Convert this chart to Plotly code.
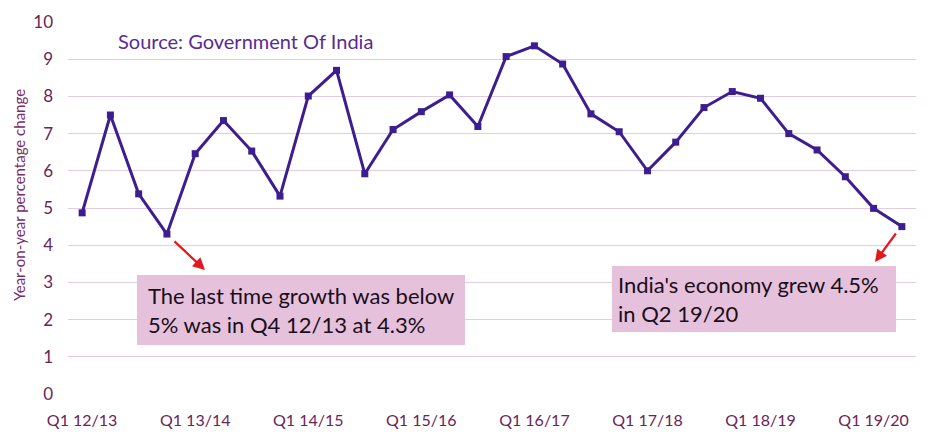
import plotly.graph_objects as go

quarters = [
    "Q1 12/13", "Q2 12/13", "Q3 12/13", "Q4 12/13",
    "Q1 13/14", "Q2 13/14", "Q3 13/14", "Q4 13/14",
    "Q1 14/15", "Q2 14/15", "Q3 14/15", "Q4 14/15",
    "Q1 15/16", "Q2 15/16", "Q3 15/16", "Q4 15/16",
    "Q1 16/17", "Q2 16/17", "Q3 16/17", "Q4 16/17",
    "Q1 17/18", "Q2 17/18", "Q3 17/18", "Q4 17/18",
    "Q1 18/19", "Q2 18/19", "Q3 18/19", "Q4 18/19",
    "Q1 19/20", "Q2 19/20",
]
growth = [
    4.87, 7.50, 5.38, 4.30,
    6.46, 7.35, 6.53, 5.32,
    8.01, 8.70, 5.92, 7.11,
    7.59, 8.04, 7.19, 9.07,
    9.36, 8.87, 7.53, 7.05,
    6.00, 6.77, 7.70, 8.13,
    7.95, 7.00, 6.56, 5.84,
    4.99, 4.50,
]
tick_labels = ["Q1 12/13", "Q1 13/14", "Q1 14/15", "Q1 15/16",
               "Q1 16/17", "Q1 17/18", "Q1 18/19", "Q1 19/20"]
y_ticks = [0, 1, 2, 3, 4, 5, 6, 7, 8, 9, 10]

W, H = 931, 446
L, R, T, B = 68, 15, 22, 52
PW = W - L - R
PH = H - T - B

def px(x):
    return (x - L) / PW

def py(y):
    return (H - B - y) / PH

LINE = "#3D1E90"
TICK = "#6A2459"
GRID = "#E3CCDD"
BOX = "#E6C1DB"
RED = "#E5161E"

fig = go.Figure()
fig.add_trace(go.Scatter(
    x=quarters, y=growth, mode="lines+markers",
    line=dict(color=LINE, width=3),
    marker=dict(symbol="square", size=7, color=LINE),
    showlegend=False, hoverinfo="x+y",
))

fig.update_layout(
    width=W, height=H,
    margin=dict(l=L, r=R, t=T, b=B, autoexpand=False),
    paper_bgcolor="white", plot_bgcolor="white",
    font=dict(family="Lato, Open Sans, sans-serif", color=TICK),
    xaxis=dict(
        type="category", categoryorder="array", categoryarray=quarters,
        tickmode="array", tickvals=tick_labels, ticktext=tick_labels,
        range=[-0.5, len(quarters) - 0.5], automargin=False,
        showgrid=False, zeroline=False, showline=False, ticks="",
        tickfont=dict(size=16, color=TICK), ticklabelstandoff=15,
    ),
    yaxis=dict(
        range=[0, 10], tickvals=y_ticks, showgrid=True, gridcolor=GRID,
        gridwidth=1, zeroline=False, showline=False, ticks="",
        automargin=False,
        tickfont=dict(size=17, color=TICK), ticklabelstandoff=14,
    ),
)

# y-axis title (placed as rotated text to match reference position)
fig.add_annotation(xref="paper", yref="paper", x=px(19), y=py(195),
                   xanchor="center", yanchor="middle", showarrow=False,
                   textangle=-90, text="Year-on-year percentage change",
                   font=dict(size=15, color="#7A2C6C"))

# Source label
fig.add_annotation(xref="paper", yref="paper", x=px(116), y=py(41),
                   xanchor="left", yanchor="middle", showarrow=False,
                   text="Source: Government Of India",
                   font=dict(size=20, color="#5A2B92"))

# annotation boxes
fig.add_shape(type="rect", xref="paper", yref="paper",
              x0=px(137), x1=px(465), y0=py(345), y1=py(275),
              fillcolor=BOX, line=dict(width=0), layer="above")
fig.add_annotation(xref="paper", yref="paper", x=px(146), y=py(310),
                   xanchor="left", yanchor="middle", showarrow=False, align="left",
                   text="The last time growth was below<br>5% was in Q4 12/13 at 4.3%",
                   font=dict(size=22, color="#1B0E1B"))
fig.add_shape(type="rect", xref="paper", yref="paper",
              x0=px(612), x1=px(896), y0=py(332), y1=py(266),
              fillcolor=BOX, line=dict(width=0), layer="above")
fig.add_annotation(xref="paper", yref="paper", x=px(616), y=py(299),
                   xanchor="left", yanchor="middle", showarrow=False, align="left",
                   text="India's economy grew 4.5%<br>in Q2 19/20",
                   font=dict(size=22, color="#1B0E1B"))

# red arrows
fig.add_annotation(xref="paper", yref="paper", axref="pixel", ayref="pixel",
                   x=px(205), y=py(270), ax=-32, ay=-30, text="",
                   showarrow=True, arrowhead=2, arrowsize=1.1, arrowwidth=2.2,
                   arrowcolor=RED)
fig.add_annotation(xref="paper", yref="paper", axref="pixel", ayref="pixel",
                   x=px(875), y=py(262), ax=22, ay=-30, text="",
                   showarrow=True, arrowhead=2, arrowsize=1.1, arrowwidth=2.2,
                   arrowcolor=RED)

fig.write_html(
    "out.html",
    config={"displayModeBar": False},
    post_script="document.body.style.margin='0';document.body.style.padding='0';",
)
